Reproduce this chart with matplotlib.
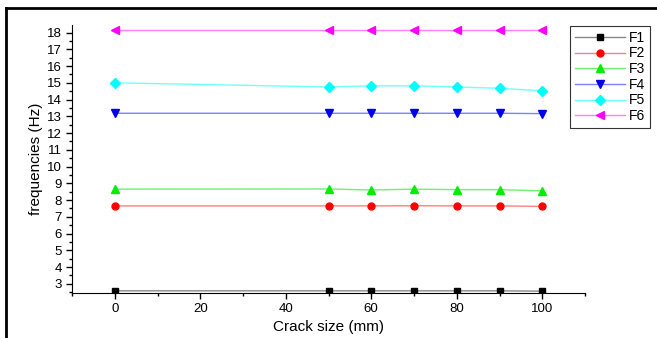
import matplotlib.pyplot as plt
from matplotlib.ticker import MultipleLocator
from matplotlib.lines import Line2D

plt.rcParams['font.family'] = ['Liberation Sans', 'DejaVu Sans']

crack = [0, 50, 60, 70, 80, 90, 100]
F1 = [2.58, 2.58, 2.58, 2.58, 2.58, 2.58, 2.56]
F2 = [7.65, 7.65, 7.65, 7.66, 7.65, 7.65, 7.62]
F3 = [8.65, 8.66, 8.6, 8.65, 8.62, 8.62, 8.55]
F4 = [13.18, 13.18, 13.18, 13.18, 13.18, 13.18, 13.16]
F5 = [15.0, 14.75, 14.82, 14.82, 14.75, 14.67, 14.52]
F6 = [18.15, 18.15, 18.15, 18.15, 18.15, 18.15, 18.15]

series = [F1, F2, F3, F4, F5, F6]
labels = ['F1', 'F2', 'F3', 'F4', 'F5', 'F6']
marker_colors = ['black', 'red', '#00ee00', '#0000ee', 'cyan', 'magenta']
line_colors = ['#888888', '#ff8080', '#70f070', '#8080ff', '#70ffff', '#ff80ff']
markers = ['s', 'o', '^', 'v', 'D', '<']
msizes = [5, 5, 6, 6, 5, 6]

fig = plt.figure(figsize=(6.57, 3.38), dpi=100)
ax = fig.add_axes([72/657, 1 - 293/338, (585-72)/657, (293-25)/338])

for ys, lc, mc, m, ms in zip(series, line_colors, marker_colors, markers, msizes):
    ax.plot(crack, ys, color=lc, lw=1.0, zorder=2)
    ax.plot(crack, ys, ls='none', marker=m, ms=ms, color=mc, mec=mc, zorder=3)

ax.set_xlim(-10, 110)
ax.set_ylim(2.45, 18.45)
ax.xaxis.set_minor_locator(MultipleLocator(10))
ax.yaxis.set_minor_locator(MultipleLocator(0.5))
ax.set_xticks([0, 20, 40, 60, 80, 100])
ax.set_yticks(range(3, 19))
ax.spines['top'].set_visible(False)
ax.spines['right'].set_visible(False)
ax.tick_params(which='major', direction='out', length=4, width=1, labelsize=9.5, colors='black')
ax.tick_params(which='minor', direction='out', length=2.5, width=1)
ax.set_xlabel('Crack size (mm)', fontsize=11, labelpad=3)
ax.set_ylabel('frequencies (Hz)', fontsize=11, labelpad=3)

handles = [Line2D([0], [0], color=lc, lw=1, marker=m, ms=ms, mfc=mc, mec=mc)
           for lc, mc, m, ms in zip(line_colors, marker_colors, markers, msizes)]
leg = fig.legend(handles, labels, loc='upper left', bbox_to_anchor=(563/657, 1 - 19/338),
                 fontsize=10, frameon=True, fancybox=False, edgecolor='black',
                 handlelength=3.6, labelspacing=0.12, borderpad=0.35, handletextpad=0.3)
leg.get_frame().set_linewidth(0.8)

# outer frame (top and left edges visible in the original)
fig.add_artist(Line2D([6/657, 1], [1 - 8/338, 1 - 8/338], color='black', lw=2))
fig.add_artist(Line2D([6/657, 6/657], [0, 1 - 8/338], color='black', lw=2))

fig.savefig('out.png', dpi=100)
